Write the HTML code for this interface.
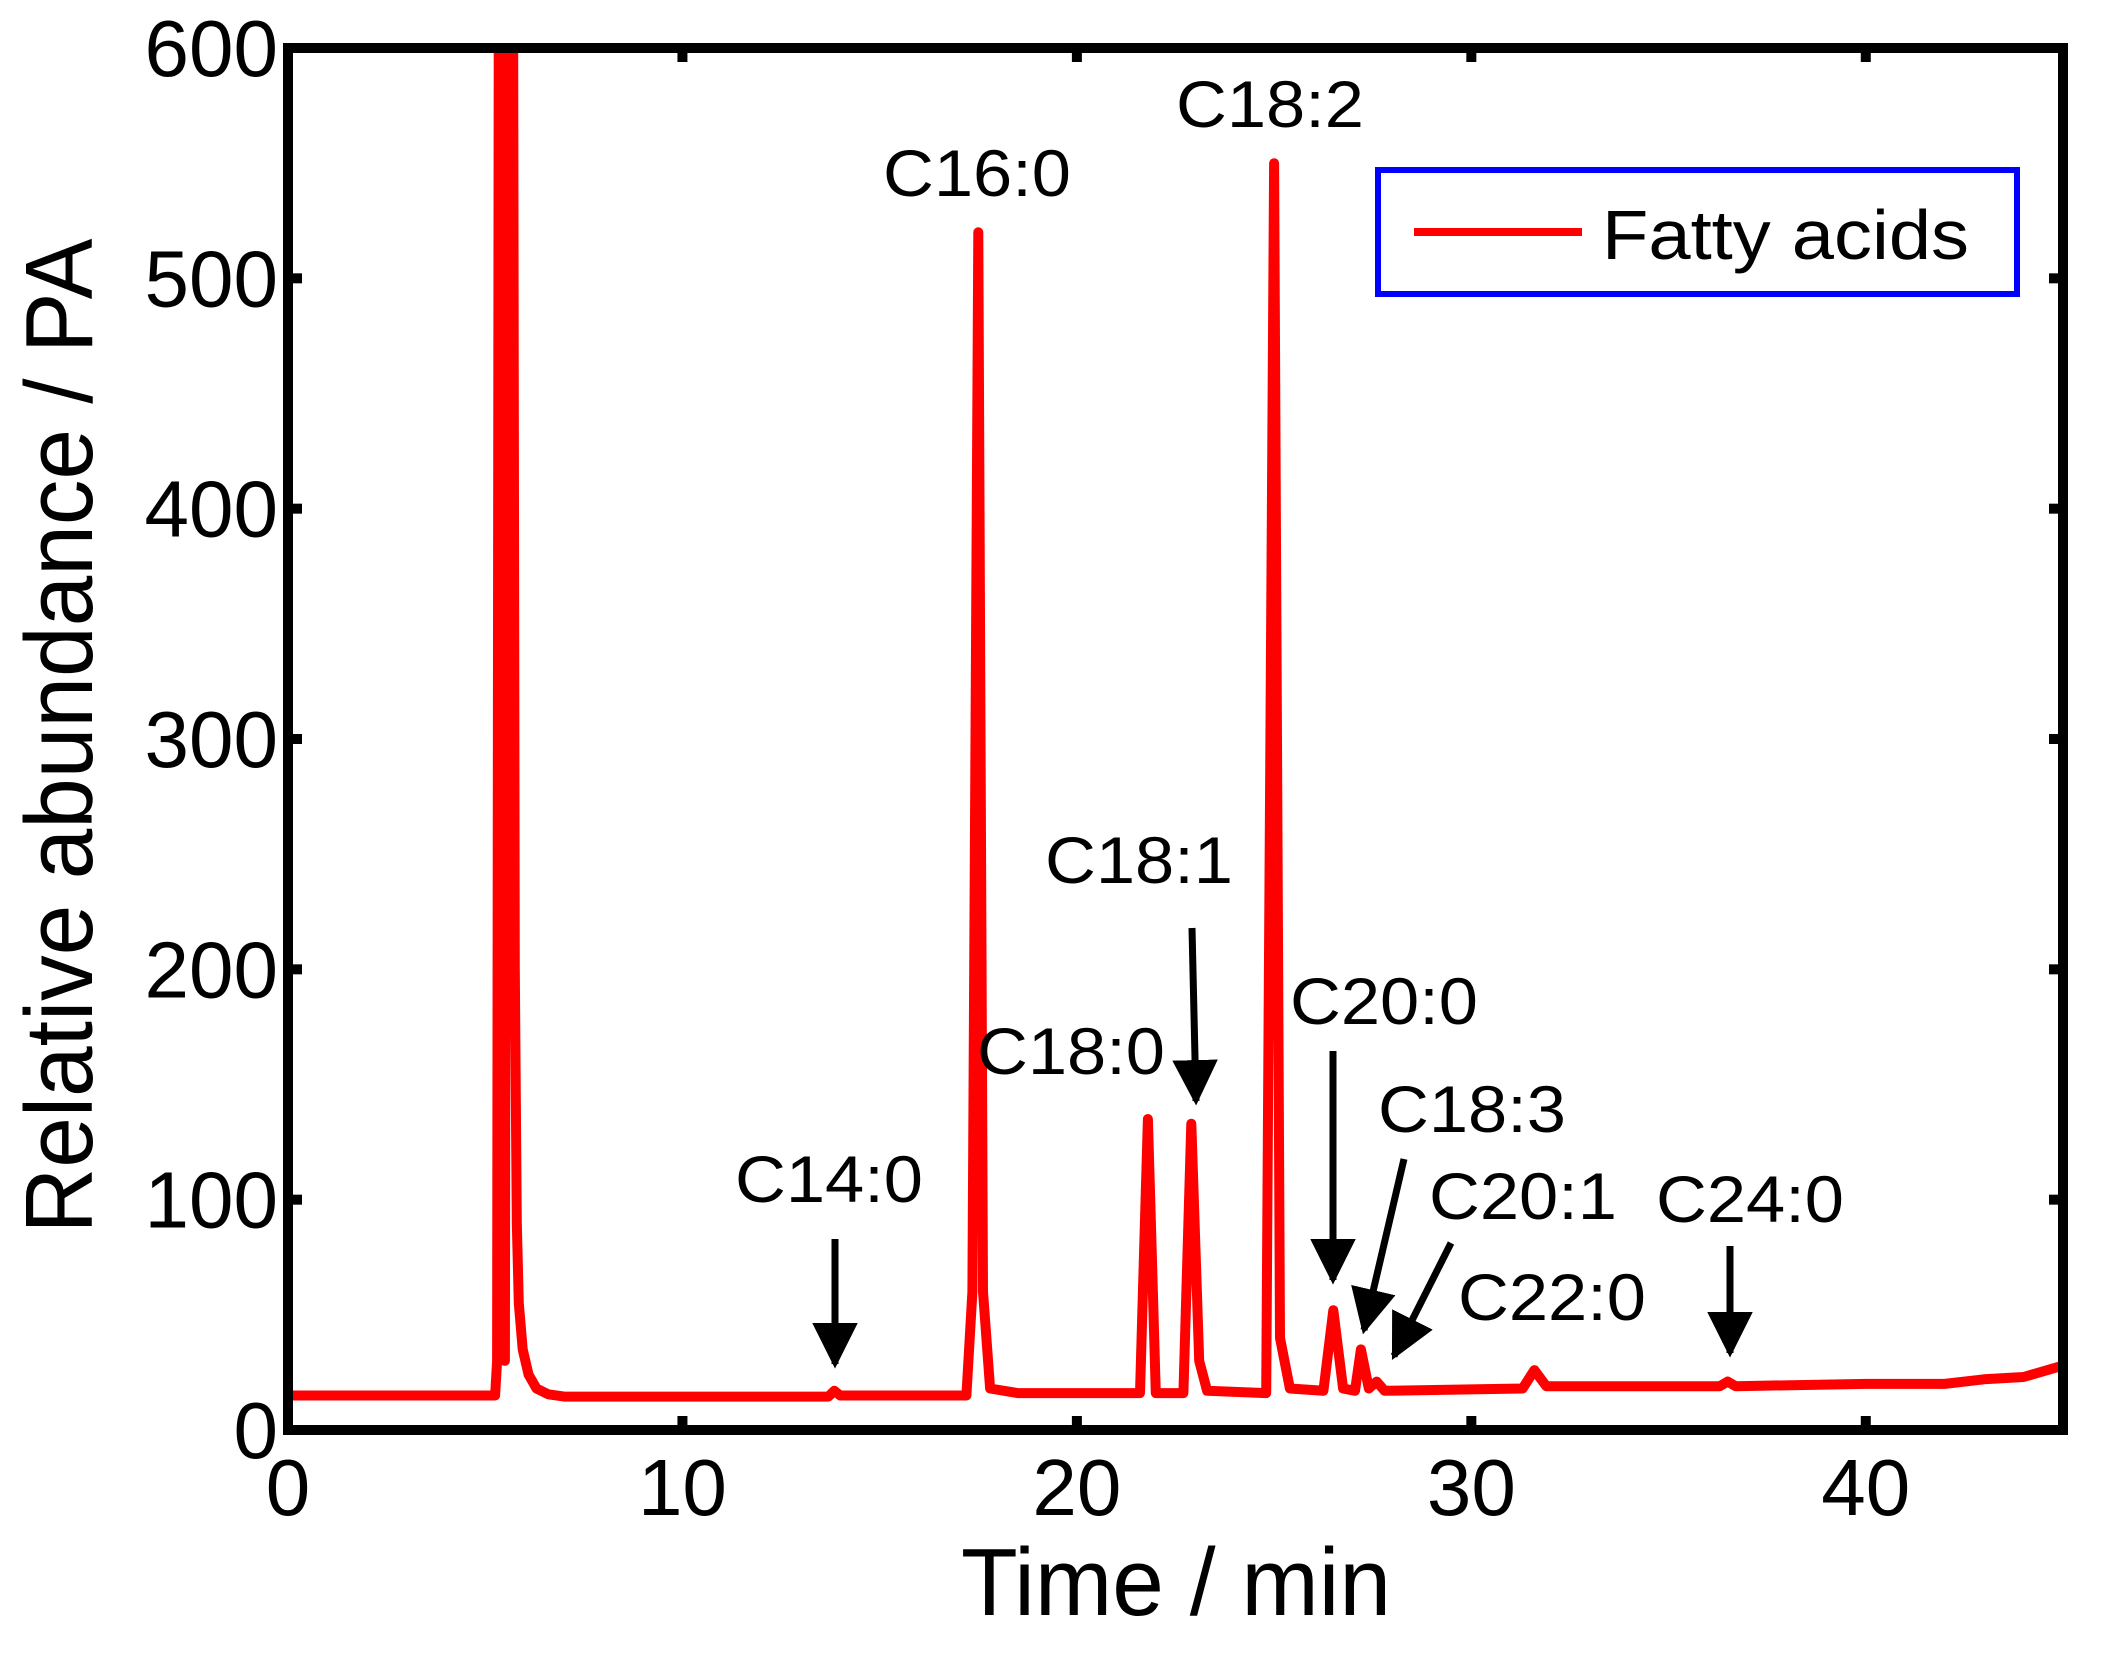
<!DOCTYPE html>
<html><head><meta charset="utf-8"><style>
html,body{margin:0;padding:0;background:#fff;}
svg{display:block;font-family:"Liberation Sans",Arial,sans-serif;}
</style></head><body>
<svg id="chart" width="2106" height="1659" viewBox="0 0 2106 1659" xmlns="http://www.w3.org/2000/svg">
<defs><clipPath id="plotclip"><rect x="288" y="48" width="1775" height="1382"/></clipPath>
<marker id="ah" viewBox="0 0 10 10" refX="9" refY="5" markerWidth="6.5" markerHeight="6.5" orient="auto" markerUnits="strokeWidth"><path d="M0,0 L10,5 L0,10 z" fill="#000"/></marker></defs>
<g id="plot"></g>
</svg>
<script>
const xTicks = [0, 10, 20, 30, 40];
const yTicks = [0, 100, 200, 300, 400, 500, 600];
const seriesTime = [0,5.25,5.3,5.35,5.45,5.5,5.55,5.7,5.75,5.8,5.85,5.95,6.1,6.3,6.6,7,13.7,13.85,14,17.2,17.35,17.5,17.62,17.8,18.5,21.6,21.8,22.0,22.7,22.9,23.1,23.3,24.8,25.0,25.15,25.4,26.25,26.5,26.75,27.05,27.2,27.4,27.6,27.8,31.3,31.6,31.9,36.3,36.5,36.7,40,42,43,44,45];
const seriesValue = [15,15,30,700,700,30,700,700,200,90,55,35,24,18,15.5,14.5,14.5,17,15,15,60,520,60,18,16,16,135,16,16,133,30,17,16,550,40,18,17,52,18,17,35,18,21,17,18,26,19,19,21,19,20,20,22,23,28];
const peakLabels = ["C16:0","C18:2","C18:1","C18:0","C20:0","C18:3","C20:1","C22:0","C14:0","C24:0"];

const L=288,R=2063,T=48,B=1430;
const x = t => L + (t-0)/(45-0)*(R-L);
const y = v => B - (v-0)/(600-0)*(B-T);
const NS="http://www.w3.org/2000/svg";
const g=document.getElementById('plot');
function mk(tag,attrs,parent){const e=document.createElementNS(NS,tag);for(const k in attrs)e.setAttribute(k,attrs[k]);(parent||g).appendChild(e);return e;}

const pts=seriesTime.map((t,i)=>x(t).toFixed(1)+','+y(seriesValue[i]).toFixed(1)).join(' ');
const line=mk('polyline',{points:pts,fill:'none',stroke:'#ff0000','stroke-width':10,'stroke-linejoin':'round','clip-path':'url(#plotclip)'});



const box=mk('rect',{x:L,y:T,width:R-L,height:B-T,fill:'none',stroke:'#000','stroke-width':10});



xTicks.forEach(t=>{
  mk('line',{x1:x(t),x2:x(t),y1:B,y2:B-14,stroke:'#000','stroke-width':10});
  mk('line',{x1:x(t),x2:x(t),y1:T,y2:T+14,stroke:'#000','stroke-width':10});
  const tx=mk('text',{x:x(t),y:1515,'font-size':80,'text-anchor':'middle'});
  tx.textContent=t;
  
  
});
yTicks.forEach(v=>{
  mk('line',{x1:L,x2:L+14,y1:y(v),y2:y(v),stroke:'#000','stroke-width':10});
  mk('line',{x1:R,x2:R-14,y1:y(v),y2:y(v),stroke:'#000','stroke-width':10});
  const tx=mk('text',{x:278,y:y(v)+28,'font-size':80,'text-anchor':'end'});
  tx.textContent=v;
  
  
});

const yt=mk('text',{x:0,y:0,'font-size':96,'text-anchor':'middle',transform:'translate(92,736) rotate(-90)',textLength:995,lengthAdjust:'spacingAndGlyphs'});
yt.textContent='Relative abundance / PA';


const xt=mk('text',{x:1176,y:1615,'font-size':96,'text-anchor':'middle',textLength:430,lengthAdjust:'spacingAndGlyphs'});
xt.textContent='Time / min';



const labelPos=[[977,196],[1270,127],[1139,883],[1071,1074],[1384,1024],[1472,1132],[1523,1219],[1552,1320],[829,1202],[1750,1222]];
peakLabels.forEach((s,i)=>{
  const tx=mk('text',{x:labelPos[i][0],y:labelPos[i][1],'font-size':66,'text-anchor':'middle',textLength:188,lengthAdjust:'spacingAndGlyphs'});
  tx.textContent=s;
  
  
});

const arrows=[[835,1239,835,1364],[1192,928,1196,1101],[1333,1051,1333,1280],[1404,1159,1364,1330],[1451,1243,1394,1356],[1730,1246,1730,1353]];
arrows.forEach(a=>{
  const ln=mk('line',{x1:a[0],y1:a[1],x2:a[2],y2:a[3],stroke:'#000','stroke-width':7,'marker-end':'url(#ah)'});
  
  
});

const lg=mk('g',{});


mk('rect',{x:1378,y:170,width:639,height:124,fill:'#fff',stroke:'#0000ff','stroke-width':6},lg);
const le=mk('line',{x1:1414,x2:1582,y1:232,y2:232,stroke:'#ff0000','stroke-width':8},lg);


const lt=mk('text',{x:1602,y:259,'font-size':70,textLength:367,lengthAdjust:'spacingAndGlyphs'},lg);
lt.textContent='Fatty acids';


</script>
</body></html>
